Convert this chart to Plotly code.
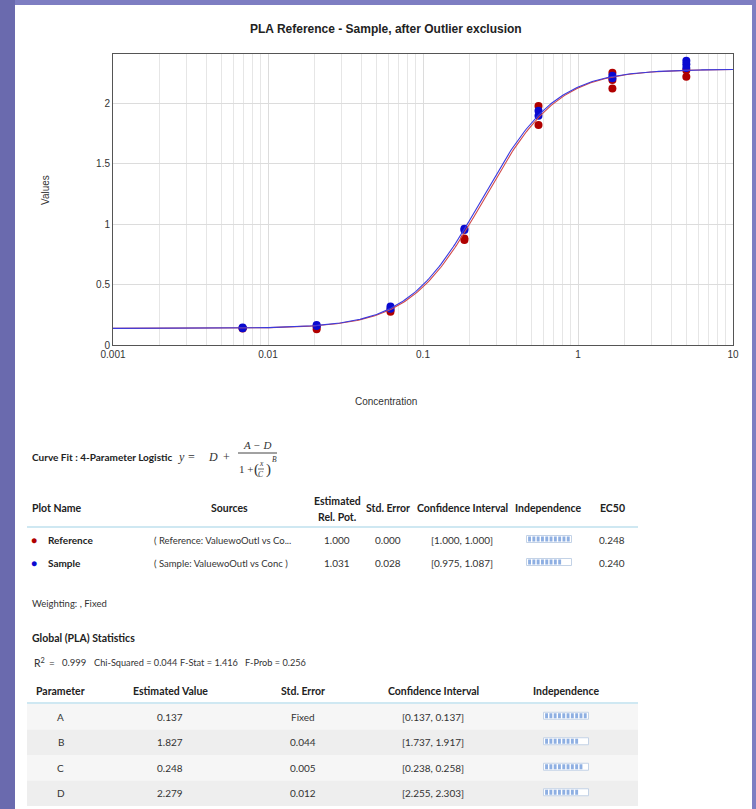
import numpy as np
import plotly.graph_objects as go

# ---- measured responses (concentration, value) ----
ref_conc = [0.00686, 0.00686, 0.0206, 0.0206, 0.0617, 0.0617, 0.185, 0.185,
            0.556, 0.556, 1.667, 1.667, 1.667, 5.0, 5.0]
ref_vals = [0.137, 0.140, 0.130, 0.150, 0.275, 0.290, 0.868, 0.880,
            1.975, 1.818, 2.250, 2.190, 2.120, 2.217, 2.270]

smp_conc = [0.00686, 0.00686, 0.0206, 0.0206, 0.0617, 0.0617, 0.185, 0.185,
            0.556, 0.556, 1.667, 1.667, 5.0, 5.0, 5.0]
smp_vals = [0.138, 0.145, 0.165, 0.158, 0.318, 0.300, 0.950, 0.960,
            1.935, 1.895, 2.225, 2.205, 2.350, 2.320, 2.290]

# ---- 4PL fit parameters ----
param_names = ["A", "B", "C", "D"]
param_est = ["0.137", "1.827", "0.248", "2.279"]
param_se = ["Fixed", "0.044", "0.005", "0.012"]
param_ci = ["[0.137, 0.137]", "[1.737, 1.917]", "[0.238, 0.258]", "[2.255, 2.303]"]
param_indep = [1.0, 0.85, 0.9, 0.85]
A_fit, B_fit, D_fit = 0.137, 1.827, 2.279

plot_names = ["Reference", "Sample"]
plot_sources = ["( Reference: ValuewoOutl vs Co...", "( Sample: ValuewoOutl vs Conc )"]
rel_pot = ["1.000", "1.031"]
rel_se = ["0.000", "0.028"]
rel_ci = ["[1.000, 1.000]", "[0.975, 1.087]"]
rel_indep = [1.0, 0.85]
ec50 = [0.248, 0.240]

x_ticks = [0.001, 0.01, 0.1, 1, 10]
x_ticktext = ["0.001", "0.01", "0.1", "1", "10"]
y_ticks = [0, 0.5, 1, 1.5, 2]
y_ticktext = ["0", "0.5", "1", "1.5", "2"]

RED = "#b00000"
BLUE = "#0a0ad0"


def four_pl(x, a, b, c, d):
    return d + (a - d) / (1 + (x / c) ** b)


W, H = 756, 809
ML, MR, MT, MB = 113, 23, 54, 464
PW, PH = W - ML - MR, H - MT - MB


def P(x, y):
    """page pixel -> paper coords"""
    return (x - ML) / PW, (H - MB - y) / PH


CHART_FONT = "Liberation Sans Narrow, Liberation Sans, Arial, sans-serif"
TABLE_FONT = "Lato, Open Sans, sans-serif"

fig = go.Figure()

xs = np.logspace(-3, 1, 400)
fig.add_trace(go.Scatter(x=ref_conc, y=ref_vals, mode="markers",
                         marker=dict(color=RED, size=8), name="Reference"))
fig.add_trace(go.Scatter(x=smp_conc, y=smp_vals, mode="markers",
                         marker=dict(color=BLUE, size=8), name="Sample"))
fig.add_trace(go.Scatter(x=xs, y=four_pl(xs, A_fit, B_fit, ec50[0], D_fit), mode="lines",
                         line=dict(color="#d04848", width=1.1), name="Reference fit"))
fig.add_trace(go.Scatter(x=xs, y=four_pl(xs, A_fit, B_fit, ec50[1], D_fit), mode="lines",
                         line=dict(color="#3a3ae0", width=1.1), name="Sample fit"))

minor_vals = [m * 10.0 ** e for e in range(-3, 1) for m in range(2, 10)]

fig.update_xaxes(type="log", range=[-3, 1], tickvals=x_ticks, ticktext=x_ticktext,
                 showgrid=True, gridcolor="#dcdcdc", gridwidth=1,
                 minor=dict(tickvals=minor_vals, showgrid=True, gridcolor="#e6e6e6", ticks=""),
                 showline=True, linecolor="#555555", linewidth=1, mirror=True,
                 ticks="", zeroline=False,
                 tickfont=dict(family=CHART_FONT, size=10, color="#333"))
fig.update_yaxes(range=[0, 2.405], tickvals=y_ticks, ticktext=y_ticktext,
                 showgrid=True, gridcolor="#dcdcdc", gridwidth=1,
                 showline=True, linecolor="#555555", linewidth=1, mirror=True,
                 ticks="", zeroline=False,
                 tickfont=dict(family=CHART_FONT, size=10, color="#333"))

shapes = []
annotations = []


def rect(x0, y0, x1, y1, fill, line=None, lw=0):
    a0, b0 = P(x0, y0)
    a1, b1 = P(x1, y1)
    shapes.append(dict(type="rect", xref="paper", yref="paper", x0=a0, y0=b0, x1=a1, y1=b1,
                       fillcolor=fill, line=dict(color=line or fill, width=lw), layer="below"))


def hline(x0, x1, y, color, lw=1):
    a0, b = P(x0, y)
    a1, _ = P(x1, y)
    shapes.append(dict(type="line", xref="paper", yref="paper", x0=a0, y0=b, x1=a1, y1=b,
                       line=dict(color=color, width=lw)))


def txt(x, y, s, size=10, bold=False, anchor="left", color="#333", family=TABLE_FONT,
        italic=False, angle=0):
    a, b = P(x, y)
    if bold:
        s = "<b>" + s + "</b>"
    if italic:
        s = "<i>" + s + "</i>"
    annotations.append(dict(x=a, y=b, xref="paper", yref="paper", text=s, showarrow=False,
                            xanchor=anchor, yanchor="middle", textangle=angle,
                            font=dict(family=family, size=size, color=color), borderpad=0))


def indep_bar(xc, yc, frac):
    w, h = 45, 7
    x0 = xc - w / 2
    a0, b0 = P(x0, yc - h / 2)
    a1, b1 = P(x0 + w, yc + h / 2)
    shapes.append(dict(type="rect", xref="paper", yref="paper", x0=a0, y0=b0, x1=a1, y1=b1,
                       fillcolor="white", line=dict(color="#c3d2e6", width=1)))
    n = 10
    seg = (w - 2) / n
    for i in range(n):
        if (i + 1) / n <= frac + 0.001:
            s0 = x0 + 1 + i * seg + 0.6
            s1 = s0 + seg - 1.4
            c0, d0 = P(s0, yc - h / 2 + 1)
            c1, d1 = P(s1, yc + h / 2 - 1)
            shapes.append(dict(type="rect", xref="paper", yref="paper", x0=c0, y0=d0, x1=c1,
                               y1=d1, fillcolor="#8eafe2", line=dict(width=0)))


# page background and white panel
rect(0, 0, 15, H, "#6a6aae")
rect(15, 5, 752, H, "#ffffff")

# chart titles
txt(386, 29, "PLA Reference - Sample, after Outlier exclusion", size=12, bold=True,
    anchor="center", color="#222", family=CHART_FONT)
txt(386, 401, "Concentration", size=10, anchor="center", color="#333", family=CHART_FONT)
txt(45, 190, "Values", size=10, anchor="center", color="#333", family=CHART_FONT, angle=-90)

# curve-fit equation
txt(31, 457, "Curve Fit : 4-Parameter Logistic", size=10, bold=True, color="#222")
SERIF = "Liberation Serif, DejaVu Serif, serif"
txt(177, 457, "y =", size=12, italic=True, color="#333", family=SERIF)
txt(207, 457, "D", size=12, italic=True, color="#333", family=SERIF)
txt(226, 457, "+", size=12, color="#333", family=SERIF, anchor="center")
txt(257, 445, "A − D", size=11, italic=True, color="#333", family=SERIF, anchor="center")
hline(238, 277, 453, "#444", 1)
txt(238, 469, "1 +", size=11, color="#333", family=SERIF)
txt(253, 469, "(", size=15, color="#333", family=SERIF)
txt(261, 464, "x", size=7.5, italic=True, color="#333", family=SERIF, anchor="center")
hline(258, 264, 469, "#444", 0.8)
txt(261, 474, "C", size=7.5, italic=True, color="#333", family=SERIF, anchor="center")
txt(265, 469, ")", size=15, color="#333", family=SERIF)
txt(271, 459, "B", size=7.5, italic=True, color="#333", family=SERIF)

# relative potency table
HDR = 10.5
txt(31, 508, "Plot Name", size=HDR, bold=True, color="#222")
txt(229, 508, "Sources", size=HDR, bold=True, color="#222", anchor="center")
txt(337, 501, "Estimated", size=HDR, bold=True, color="#222", anchor="center")
txt(337, 517, "Rel. Pot.", size=HDR, bold=True, color="#222", anchor="center")
txt(388, 508, "Std. Error", size=HDR, bold=True, color="#222", anchor="center")
txt(462, 508, "Confidence Interval", size=HDR, bold=True, color="#222", anchor="center")
txt(548, 508, "Independence", size=HDR, bold=True, color="#222", anchor="center")
txt(612, 508, "EC50", size=HDR, bold=True, color="#222", anchor="center")
hline(27, 638, 527, "#bfe0ee", 1.5)

row_y = [540, 563]
dot_cols = [RED, BLUE]
for i in range(2):
    y = row_y[i]
    txt(34, y, "●", size=10, color=dot_cols[i], anchor="center")
    txt(47, y, plot_names[i], size=10, bold=True, color="#222")
    txt(153, y, plot_sources[i], size=9.5, color="#333")
    txt(337, y, rel_pot[i], size=10, anchor="center")
    txt(388, y, rel_se[i], size=10, anchor="center")
    txt(462, y, rel_ci[i], size=10, anchor="center")
    indep_bar(549, y - 1, rel_indep[i])
    txt(612, y, f"{ec50[i]:.3f}", size=10, anchor="center")

txt(31, 603, "Weighting: , Fixed", size=9.5, color="#333")

# global statistics
txt(31, 638, "Global (PLA) Statistics", size=10.5, bold=True, color="#222")
txt(33, 663, "R<sup>2</sup>", size=10.5, color="#333")
txt(48, 663, "=", size=10, color="#333")
txt(61, 663, "0.999", size=9.5, color="#333")
txt(93, 663, "Chi-Squared = 0.044", size=9.2, color="#333")
txt(179, 663, "F-Stat = 1.416", size=9.2, color="#333")
txt(244, 663, "F-Prob = 0.256", size=9.2, color="#333")

col_x = [61, 170, 303, 433, 566]
headers = ["Parameter", "Estimated Value", "Std. Error", "Confidence Interval", "Independence"]
for cx, h in zip(col_x, headers):
    txt(cx, 691, h, size=HDR, bold=True, color="#222", anchor="center")
hline(27, 638, 703, "#bfe0ee", 1.5)

row_h = 25.5
for i in range(4):
    y0 = 704 + i * row_h
    rect(27, y0, 638, y0 + row_h, "#f6f6f6" if i % 2 == 0 else "#eeeeee")
    yc = y0 + row_h / 2
    txt(col_x[0], yc, param_names[i], size=10, anchor="center")
    txt(col_x[1], yc, param_est[i], size=10, anchor="center")
    txt(col_x[2], yc, param_se[i], size=10, anchor="center")
    txt(col_x[3], yc, param_ci[i], size=10, anchor="center")
    indep_bar(col_x[4], yc - 1, param_indep[i])

fig.update_layout(width=W, height=H, margin=dict(l=ML, r=MR, t=MT, b=MB),
                  paper_bgcolor="#7e7ec2", plot_bgcolor="white", showlegend=False,
                  shapes=shapes, annotations=annotations)

fig.write_html("out.html")
